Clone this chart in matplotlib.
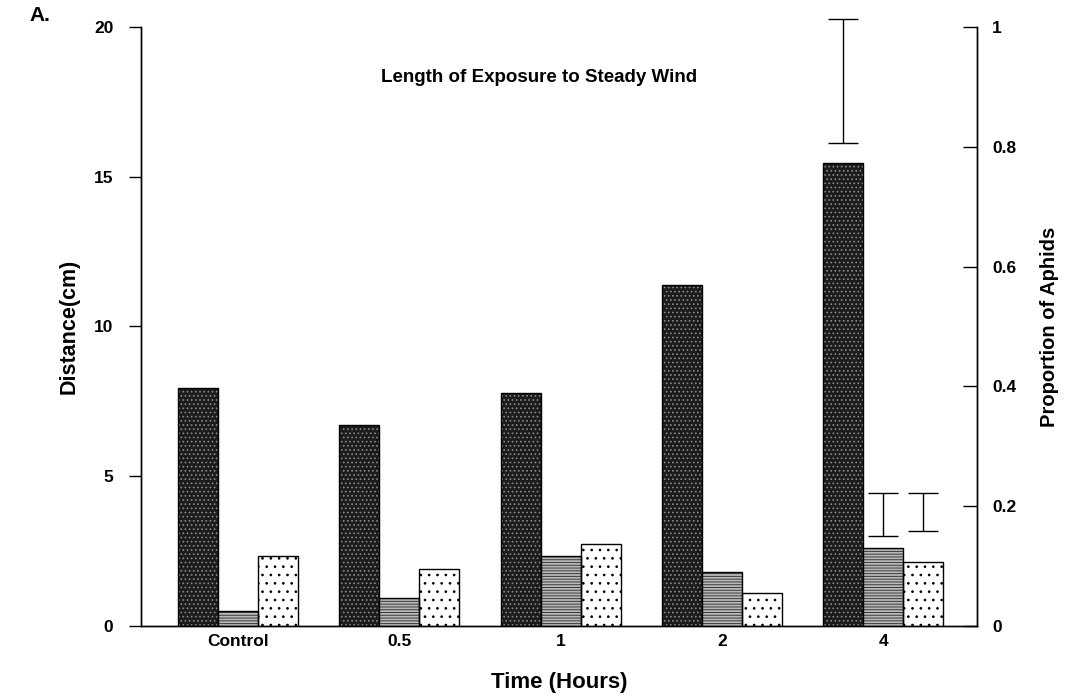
import numpy as np
import matplotlib
matplotlib.use('Agg')
import matplotlib.pyplot as plt

# values
groups = ['Control', '0.5', '1', '2', '4']
distance = [7.93, 6.70, 7.77, 11.37, 15.47]          # cm, left axis
prop_gray = [0.025, 0.047, 0.117, 0.090, 0.130]      # right axis
prop_dot = [0.117, 0.095, 0.137, 0.055, 0.107]      # right axis

# error bars only shown for the 4 h group (low, high)
dist_err = (16.13, 20.27)
gray_err = (0.150, 0.222)
dot_err = (0.159, 0.222)

plt.rcParams['font.family'] = ['Liberation Sans', 'DejaVu Sans']
plt.rcParams['font.weight'] = 'bold'
plt.rcParams['hatch.linewidth'] = 0.7

fig = plt.figure(figsize=(10.66, 6.96), dpi=100)
ax = fig.add_axes([0.1323, 0.1006, 0.7842, 0.8606])
ax2 = ax.twinx()

x = np.arange(len(groups))
w = 0.248

# dark speckled bars (distance)
ax.bar(x - w, distance, w, color='#1c1c1c', edgecolor='#8a8a8a', hatch='....', linewidth=0, zorder=2)
ax.bar(x - w, distance, w, fill=False, edgecolor='black', linewidth=1.0, zorder=3)

# gray lined bars and dotted bars (proportion)
ax2.bar(x, prop_gray, w, color='#b8b8b8', edgecolor='#3a3a3a', hatch='------', linewidth=0, zorder=2)
ax2.bar(x, prop_gray, w, fill=False, edgecolor='black', linewidth=1.0, zorder=3)
ax2.bar(x + w, prop_dot, w, color='white', edgecolor='black', hatch='..', linewidth=1.0, zorder=2)

i = len(groups) - 1
for axis, xpos, (lo, hi) in [(ax, x[i] - w, dist_err), (ax2, x[i], gray_err), (ax2, x[i] + w, dot_err)]:
    axis.errorbar(xpos, (lo + hi) / 2, yerr=(hi - lo) / 2, fmt='none', ecolor='black',
                  elinewidth=1.0, capsize=10.8, capthick=1.0, clip_on=False, zorder=4)

ax.set_xlim(-0.6, 4.58)
ax.set_ylim(0, 20)
ax2.set_ylim(0, 1)
ax.set_yticks([0, 5, 10, 15, 20])
ax2.set_yticks([0, 0.2, 0.4, 0.6, 0.8, 1])
ax2.set_yticklabels(['0', '0.2', '0.4', '0.6', '0.8', '1'])
ax.set_xticks(x)
ax.set_xticklabels(groups)

ax.tick_params(axis='y', direction='out', length=9, width=1, pad=11, labelsize=12.5)
ax2.tick_params(axis='y', direction='in', length=10, width=1, pad=11, labelsize=12.5)
ax.tick_params(axis='x', length=0, pad=6, labelsize=12.5)

for a in (ax, ax2):
    a.spines['top'].set_visible(False)
    for s in ('left', 'right', 'bottom'):
        a.spines[s].set_linewidth(1.0)

ax.set_ylabel('Distance(cm)', fontsize=15.5, fontweight='bold', labelpad=10)
ax2.set_ylabel('Proportion of Aphids', fontsize=14.5, fontweight='bold', labelpad=17)
ax.set_xlabel('Time (Hours)', fontsize=16, fontweight='bold', labelpad=16)

ax.text(0.476, 0.915, 'Length of Exposure to Steady Wind', transform=ax.transAxes,
        ha='center', va='center', fontsize=13.5, fontweight='bold')
fig.text(0.028, 0.978, 'A.', ha='left', va='center', fontsize=15, fontweight='bold')

fig.savefig('out.png', dpi=100)
